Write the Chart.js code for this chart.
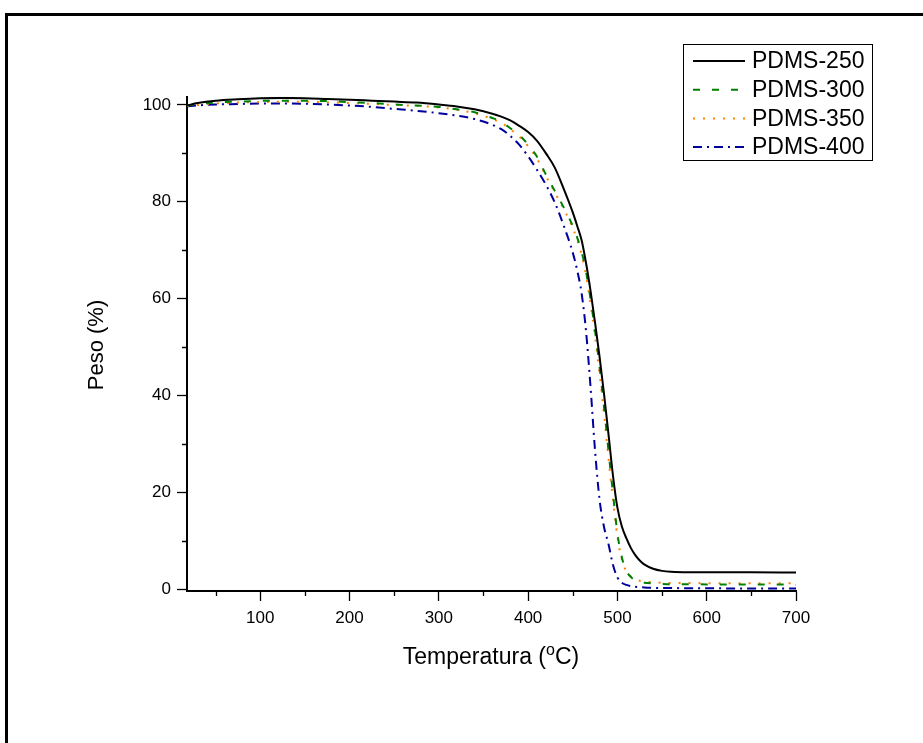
<!DOCTYPE html>
<html>
<head>
<meta charset="utf-8">
<script src="https://cdn.jsdelivr.net/npm/chart.js@4.4.0/dist/chart.umd.min.js"></script>
<style>
html, body { margin: 0; padding: 0; background: #fff; }
#wrap { position: relative; width: 923px; height: 743px; overflow: hidden; }
#frame { position: absolute; left: 5px; top: 13px; width: 1000px; height: 800px;
         border-left: 3px solid #000; border-top: 3px solid #000; }
canvas { position: absolute; left: 0; top: 0; }
</style>
</head>
<body>
<div id="wrap"><div id="frame"></div><canvas id="c" width="923" height="743"></canvas></div>
<script>
// temperatura (C)
const temps = [18, 30, 50, 75, 100, 125, 150, 175, 200, 225, 250, 275, 300, 320, 340, 360, 370, 380,
  390, 400, 410, 420, 430, 440, 450, 455, 460, 465, 470, 475, 480, 485, 490, 495, 500, 505, 510,
  515, 520, 525, 530, 540, 550, 560, 580, 600, 650, 700];

// peso (%)
const pdms250 = [99.9, 100.4, 100.9, 101.2, 101.4, 101.45, 101.4, 101.25, 101.1, 100.9, 100.7, 100.5,
  100.1, 99.7, 99.1, 98.2, 97.6, 96.8, 95.7, 94.4, 92.6, 90.0, 87.0, 82.6, 77.8, 75.0, 72.0, 67.2,
  61.5, 55.0, 48.0, 40.3, 32.0, 23.5, 16.8, 12.9, 10.5, 8.5, 7.0, 5.9, 5.1, 4.2, 3.75, 3.55,
  3.45, 3.45, 3.45, 3.4];
const pdms300 = [99.9, 100.2, 100.5, 100.7, 100.85, 100.9, 100.9, 100.8, 100.6, 100.4, 100.1, 99.9,
  99.6, 99.1, 98.5, 97.3, 96.5, 95.2, 93.8, 91.8, 89.3, 85.6, 82.2, 78.8, 75.0, 72.6, 69.6, 65.4,
  59.8, 53.3, 45.9, 37.6, 28.6, 19.8, 11.5, 6.5, 3.8, 2.5, 1.8, 1.45, 1.3, 1.15, 1.05, 1.0,
  1.0, 0.95, 0.95, 0.9];
const pdms350 = [99.8, 100.0, 100.3, 100.5, 100.6, 100.65, 100.65, 100.55, 100.4, 100.2, 100.0, 99.8,
  99.5, 99.0, 98.3, 97.1, 96.3, 95.0, 93.5, 91.5, 88.9, 85.3, 81.9, 78.5, 74.6, 72.1, 69.0, 64.6,
  58.8, 52.1, 44.5, 36.2, 27.1, 18.5, 10.8, 6.1, 3.7, 2.6, 2.0, 1.7, 1.55, 1.4, 1.3, 1.25,
  1.25, 1.2, 1.2, 1.2];
const pdms400 = [99.7, 99.9, 100.1, 100.2, 100.3, 100.3, 100.25, 100.1, 99.9, 99.6, 99.2, 98.8,
  98.3, 97.8, 97.1, 95.9, 95.0, 93.6, 91.8, 89.4, 86.6, 83.5, 79.8, 75.0, 69.5, 65.8, 61.0, 53.0,
  41.5, 28.5, 18.5, 12.8, 9.3, 5.0, 2.4, 1.3, 0.85, 0.6, 0.45, 0.38, 0.32, 0.25, 0.2, 0.2,
  0.15, 0.15, 0.1, 0.1];

const xTicks = [100, 200, 300, 400, 500, 600, 700];
const xMinor = [50, 150, 250, 350, 450, 550, 650];
const yTicks = [0, 20, 40, 60, 80, 100];
const yMinor = [10, 30, 50, 70, 90];

const FONT = "'Liberation Sans', Arial, sans-serif";

function pts(arr) {
  return temps.map((t, i) => ({ x: t, y: arr[i] }));
}

const extras = {
  id: 'extras',
  afterDraw(chart) {
    const ctx = chart.ctx;
    const xs = chart.scales.x, ys = chart.scales.y;
    const area = chart.chartArea;
    ctx.save();
    // minor ticks
    ctx.strokeStyle = '#000';
    ctx.lineWidth = 1.3;
    ctx.beginPath();
    xMinor.forEach(v => {
      const px = Math.round(xs.getPixelForValue(v)) + 0.5;
      ctx.moveTo(px, area.bottom);
      ctx.lineTo(px, area.bottom + 5);
    });
    yMinor.forEach(v => {
      const py = Math.round(ys.getPixelForValue(v)) + 0.5;
      ctx.moveTo(area.left - 5, py);
      ctx.lineTo(area.left, py);
    });
    ctx.stroke();

    // axis titles
    ctx.fillStyle = '#000';
    ctx.textBaseline = 'alphabetic';
    ctx.font = '23px ' + FONT;
    const a = 'Temperatura (', b = 'o', c = 'C)';
    const wa = ctx.measureText(a).width, wc = ctx.measureText(c).width;
    ctx.font = '16px ' + FONT;
    const wb = ctx.measureText(b).width;
    const x0 = 491 - (wa + wb + wc) / 2;
    const base = 664;
    ctx.font = '23px ' + FONT;
    ctx.fillText(a, x0, base);
    ctx.font = '16px ' + FONT;
    ctx.fillText(b, x0 + wa, base - 9);
    ctx.font = '23px ' + FONT;
    ctx.fillText(c, x0 + wa + wb, base);

    ctx.save();
    ctx.font = '22px ' + FONT;
    ctx.translate(103, 345);
    ctx.rotate(-Math.PI / 2);
    ctx.textAlign = 'center';
    ctx.fillText('Peso (%)', 0, 0);
    ctx.restore();

    // legend
    ctx.lineWidth = 1;
    ctx.strokeStyle = '#000';
    ctx.strokeRect(683.5, 44.5, 189, 116);
    ctx.font = '23px ' + FONT;
    ctx.textBaseline = 'middle';
    ctx.textAlign = 'left';
    chart.data.datasets.forEach((ds, i) => {
      const y = 61 + i * 28.7;
      ctx.save();
      ctx.strokeStyle = ds.borderColor;
      ctx.lineWidth = ds.borderWidth;
      ctx.setLineDash(ds.borderDash || []);
      ctx.beginPath();
      ctx.moveTo(693, y);
      ctx.lineTo(745, y);
      ctx.stroke();
      ctx.restore();
      ctx.fillStyle = '#000';
      ctx.fillText(ds.label, 752, y + 1);
    });
    ctx.restore();
  }
};

new Chart(document.getElementById('c'), {
  type: 'line',
  data: {
    datasets: [
      { label: 'PDMS-250', data: pts(pdms250), borderColor: '#000000', borderWidth: 2, borderDash: [] },
      { label: 'PDMS-300', data: pts(pdms300), borderColor: '#008000', borderWidth: 2, borderDash: [7, 12] },
      { label: 'PDMS-350', data: pts(pdms350), borderColor: '#ff8000', borderWidth: 2, borderDash: [2, 8] },
      { label: 'PDMS-400', data: pts(pdms400), borderColor: '#00009c', borderWidth: 2, borderDash: [9, 5, 2, 5] }
    ]
  },
  options: {
    responsive: false,
    animation: false,
    events: [],
    layout: { padding: { left: 0, top: 97, right: 127, bottom: 0 } },
    elements: {
      point: { radius: 0 },
      line: { cubicInterpolationMode: 'monotone', fill: false }
    },
    plugins: { legend: { display: false }, tooltip: { enabled: false } },
    scales: {
      x: {
        type: 'linear',
        min: 18,
        max: 700,
        afterBuildTicks: s => { s.ticks = xTicks.map(v => ({ value: v })); },
        afterFit: s => { s.height = 152; },
        ticks: { font: { size: 17, family: FONT }, color: '#000', padding: 7, maxRotation: 0 },
        grid: { drawOnChartArea: false, drawTicks: true, tickLength: 10, tickColor: '#000', tickWidth: 1.3 },
        border: { display: true, color: '#000', width: 2 }
      },
      y: {
        type: 'linear',
        min: -0.41,
        max: 101.65,
        afterBuildTicks: s => { s.ticks = yTicks.map(v => ({ value: v })); },
        afterFit: s => { s.width = 187; },
        ticks: { font: { size: 17, family: FONT }, color: '#000', padding: 6 },
        grid: { drawOnChartArea: false, drawTicks: true, tickLength: 10, tickColor: '#000', tickWidth: 1.3 },
        border: { display: true, color: '#000', width: 2 }
      }
    }
  },
  plugins: [extras]
});
</script>
</body>
</html>
